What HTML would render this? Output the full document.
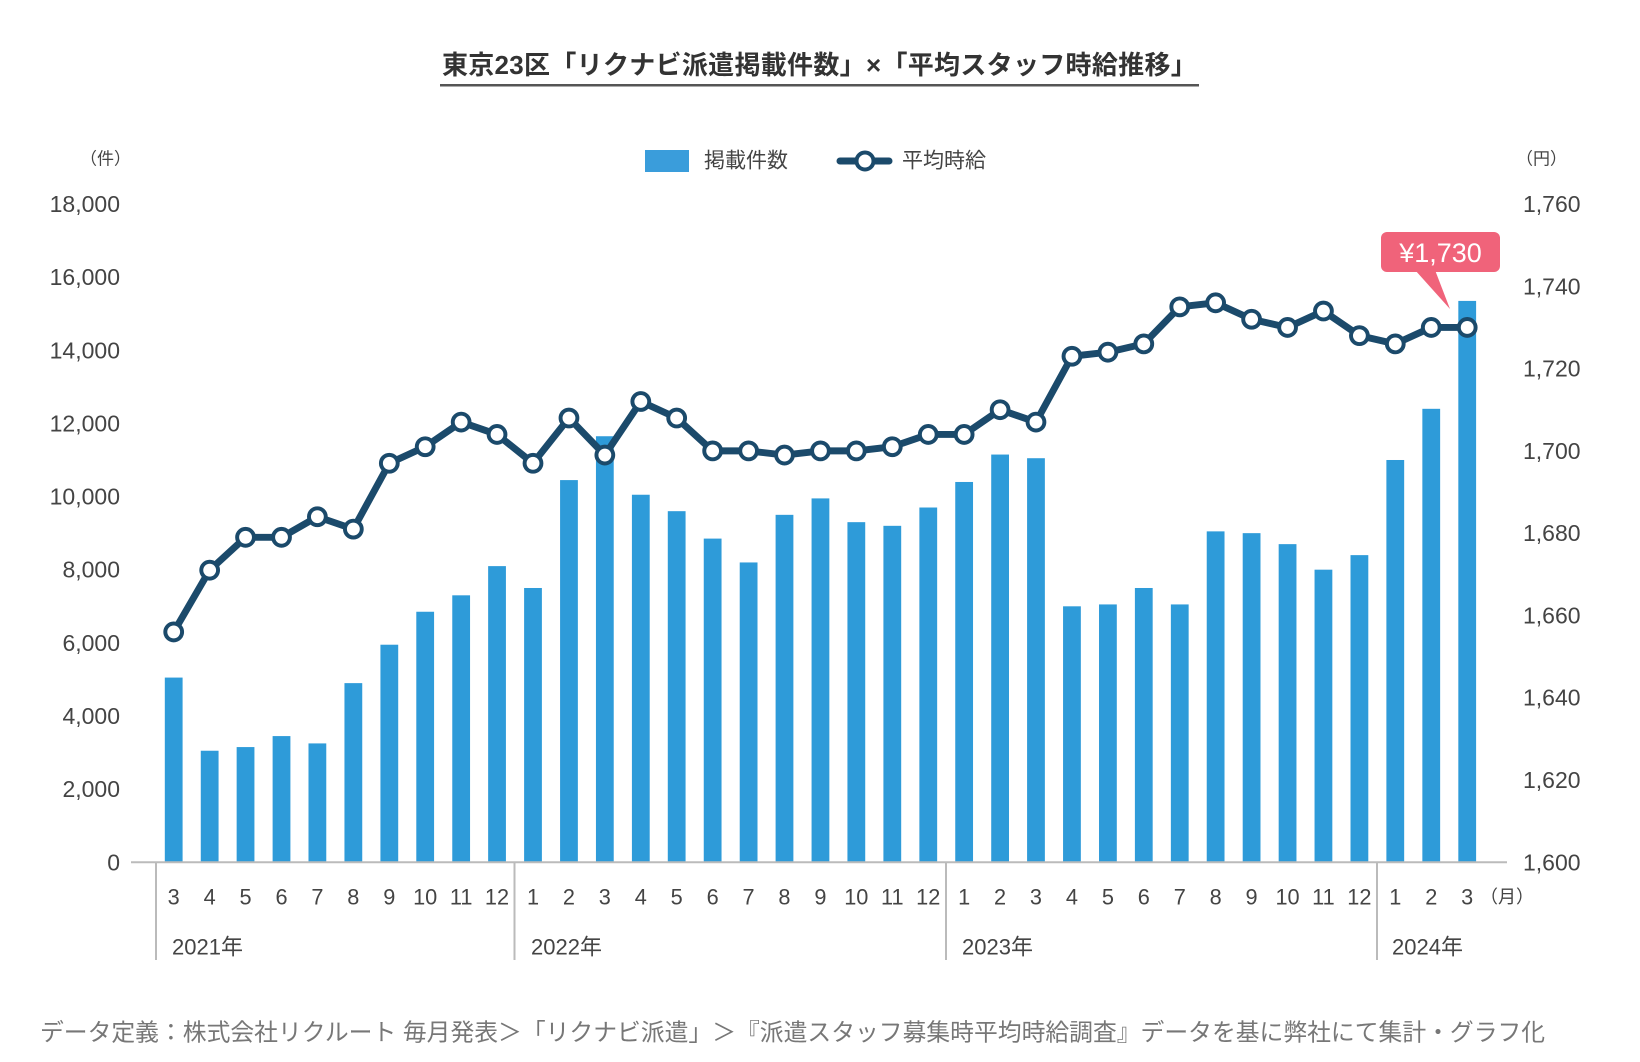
<!DOCTYPE html>
<html><head><meta charset="utf-8"><style>
html,body{margin:0;padding:0;background:#fff;}
svg{display:block;font-family:"Liberation Sans","Noto Sans CJK JP",sans-serif;}
</style></head><body>
<svg width="1640" height="1062" viewBox="0 0 1640 1062" xmlns="http://www.w3.org/2000/svg">
<text x="819.5" y="65" text-anchor="middle" dominant-baseline="central" font-size="26" font-weight="bold" fill="#333" letter-spacing="0.3">東京23区「リクナビ派遣掲載件数」×「平均スタッフ時給推移」</text>
<rect x="440" y="84" width="759" height="2.5" fill="#555"/>
<rect x="645" y="150" width="44" height="22" fill="#3a9ddb"/>
<text x="704" y="161" dominant-baseline="central" font-size="21" fill="#444">掲載件数</text>
<line x1="840" y1="161" x2="889" y2="161" stroke="#1b4a6b" stroke-width="7" stroke-linecap="round"/>
<circle cx="865" cy="161" r="8.5" fill="#fff" stroke="#1b4a6b" stroke-width="4"/>
<text x="902" y="161" dominant-baseline="central" font-size="21" fill="#444">平均時給</text>
<g font-size="17" fill="#444" dominant-baseline="central">
<text x="80" y="159">（件）</text><text x="1516" y="159">（円）</text></g>
<g font-size="23" fill="#444" text-anchor="end" dominant-baseline="central">
<text x="120" y="204">18,000</text><text x="120" y="277.1">16,000</text><text x="120" y="350.3">14,000</text><text x="120" y="423.4">12,000</text><text x="120" y="496.6">10,000</text><text x="120" y="569.7">8,000</text><text x="120" y="642.9">6,000</text><text x="120" y="716">4,000</text><text x="120" y="789.1">2,000</text><text x="120" y="862.3">0</text></g>
<g font-size="23" fill="#444" dominant-baseline="central">
<text x="1523" y="204">1,760</text><text x="1523" y="286.3">1,740</text><text x="1523" y="368.6">1,720</text><text x="1523" y="450.9">1,700</text><text x="1523" y="533.2">1,680</text><text x="1523" y="615.4">1,660</text><text x="1523" y="697.7">1,640</text><text x="1523" y="780">1,620</text><text x="1523" y="862.3">1,600</text></g>
<g transform="matrix(0.98817 0 0 0.98992 -0.218 2.059)">
<g fill="#2e9bd9">
<rect x="167" y="682.4" width="18" height="186.6"/><rect x="203.4" y="756.3" width="18" height="112.7"/><rect x="239.7" y="752.6" width="18" height="116.4"/><rect x="276.1" y="741.5" width="18" height="127.5"/><rect x="312.4" y="748.9" width="18" height="120.1"/><rect x="348.8" y="688" width="18" height="181"/><rect x="385.2" y="649.2" width="18" height="219.8"/><rect x="421.5" y="615.9" width="18" height="253.1"/><rect x="457.9" y="599.3" width="18" height="269.7"/><rect x="494.2" y="569.8" width="18" height="299.2"/>
<rect x="530.6" y="591.9" width="18" height="277.1"/><rect x="567" y="482.9" width="18" height="386.1"/><rect x="603.3" y="438.6" width="18" height="430.4"/><rect x="639.7" y="497.7" width="18" height="371.3"/><rect x="676" y="514.3" width="18" height="354.7"/><rect x="712.4" y="542" width="18" height="327"/><rect x="748.8" y="566.1" width="18" height="302.9"/><rect x="785.1" y="518" width="18" height="351"/><rect x="821.5" y="501.4" width="18" height="367.6"/><rect x="857.8" y="525.4" width="18" height="343.6"/><rect x="894.2" y="529.1" width="18" height="339.9"/><rect x="930.6" y="510.6" width="18" height="358.4"/>
<rect x="966.9" y="484.8" width="18" height="384.2"/><rect x="1003.3" y="457.1" width="18" height="411.9"/><rect x="1039.6" y="460.8" width="18" height="408.2"/><rect x="1076" y="610.4" width="18" height="258.6"/><rect x="1112.4" y="608.5" width="18" height="260.5"/><rect x="1148.7" y="591.9" width="18" height="277.1"/><rect x="1185.1" y="608.5" width="18" height="260.5"/><rect x="1221.4" y="534.7" width="18" height="334.3"/><rect x="1257.8" y="536.5" width="18" height="332.5"/><rect x="1294.2" y="547.6" width="18" height="321.4"/><rect x="1330.5" y="573.4" width="18" height="295.6"/><rect x="1366.9" y="558.7" width="18" height="310.3"/>
<rect x="1403.2" y="462.6" width="18" height="406.4"/><rect x="1439.6" y="410.9" width="18" height="458.1"/><rect x="1476" y="301.9" width="18" height="567.1"/>
</g>
<polyline fill="none" stroke="#1b4a6b" stroke-width="7" stroke-linejoin="round" points="176,636.3 212.4,573.9 248.7,540.7 285.1,540.7 321.4,519.9 357.8,532.4 394.2,465.9 430.5,449.2 466.9,424.3 503.2,436.8 539.6,465.9 576,420.2 612.3,457.6 648.7,403.5 685,420.2 721.4,453.4 757.8,453.4 794.1,457.6 830.5,453.4 866.8,453.4 903.2,449.2 939.6,436.8 975.9,436.8 1012.3,411.8 1048.6,424.3 1085,357.8 1121.4,353.7 1157.7,345.3 1194.1,307.9 1230.4,303.8 1266.8,320.4 1303.2,328.7 1339.5,312.1 1375.9,337 1412.2,345.3 1448.6,328.7 1485,328.7"/>
<g fill="#fff" stroke="#1b4a6b" stroke-width="4">
<circle cx="176" cy="636.3" r="8.5"/><circle cx="212.4" cy="573.9" r="8.5"/><circle cx="248.7" cy="540.7" r="8.5"/><circle cx="285.1" cy="540.7" r="8.5"/><circle cx="321.4" cy="519.9" r="8.5"/><circle cx="357.8" cy="532.4" r="8.5"/><circle cx="394.2" cy="465.9" r="8.5"/><circle cx="430.5" cy="449.2" r="8.5"/><circle cx="466.9" cy="424.3" r="8.5"/><circle cx="503.2" cy="436.8" r="8.5"/><circle cx="539.6" cy="465.9" r="8.5"/><circle cx="576" cy="420.2" r="8.5"/><circle cx="612.3" cy="457.6" r="8.5"/><circle cx="648.7" cy="403.5" r="8.5"/><circle cx="685" cy="420.2" r="8.5"/><circle cx="721.4" cy="453.4" r="8.5"/><circle cx="757.8" cy="453.4" r="8.5"/><circle cx="794.1" cy="457.6" r="8.5"/><circle cx="830.5" cy="453.4" r="8.5"/><circle cx="866.8" cy="453.4" r="8.5"/><circle cx="903.2" cy="449.2" r="8.5"/><circle cx="939.6" cy="436.8" r="8.5"/><circle cx="975.9" cy="436.8" r="8.5"/><circle cx="1012.3" cy="411.8" r="8.5"/><circle cx="1048.6" cy="424.3" r="8.5"/><circle cx="1085" cy="357.8" r="8.5"/><circle cx="1121.4" cy="353.7" r="8.5"/><circle cx="1157.7" cy="345.3" r="8.5"/><circle cx="1194.1" cy="307.9" r="8.5"/><circle cx="1230.4" cy="303.8" r="8.5"/><circle cx="1266.8" cy="320.4" r="8.5"/><circle cx="1303.2" cy="328.7" r="8.5"/><circle cx="1339.5" cy="312.1" r="8.5"/><circle cx="1375.9" cy="337" r="8.5"/><circle cx="1412.2" cy="345.3" r="8.5"/><circle cx="1448.6" cy="328.7" r="8.5"/><circle cx="1485" cy="328.7" r="8.5"/>
</g>
<g font-size="22" fill="#444" text-anchor="middle" dominant-baseline="central">
<text x="176" y="904">3</text><text x="212.4" y="904">4</text><text x="248.7" y="904">5</text><text x="285.1" y="904">6</text><text x="321.4" y="904">7</text><text x="357.8" y="904">8</text><text x="394.2" y="904">9</text><text x="430.5" y="904">10</text><text x="466.9" y="904">11</text><text x="503.2" y="904">12</text>
<text x="539.6" y="904">1</text><text x="576" y="904">2</text><text x="612.3" y="904">3</text><text x="648.7" y="904">4</text><text x="685" y="904">5</text><text x="721.4" y="904">6</text><text x="757.8" y="904">7</text><text x="794.1" y="904">8</text><text x="830.5" y="904">9</text><text x="866.8" y="904">10</text><text x="903.2" y="904">11</text><text x="939.6" y="904">12</text>
<text x="975.9" y="904">1</text><text x="1012.3" y="904">2</text><text x="1048.6" y="904">3</text><text x="1085" y="904">4</text><text x="1121.4" y="904">5</text><text x="1157.7" y="904">6</text><text x="1194.1" y="904">7</text><text x="1230.4" y="904">8</text><text x="1266.8" y="904">9</text><text x="1303.2" y="904">10</text><text x="1339.5" y="904">11</text><text x="1375.9" y="904">12</text>
<text x="1412.2" y="904">1</text><text x="1448.6" y="904">2</text><text x="1485" y="904">3</text>
</g>
</g>
<line x1="131" y1="862.3" x2="1507" y2="862.3" stroke="#bbb" stroke-width="2"/>
<g stroke="#bbb" stroke-width="2">
<line x1="156" y1="862" x2="156" y2="960"/><line x1="514.5" y1="862" x2="514.5" y2="960"/><line x1="946" y1="862" x2="946" y2="960"/><line x1="1377" y1="862" x2="1377" y2="960"/></g>
<rect x="1381" y="232" width="119" height="40" rx="6" fill="#f0637a"/>
<polygon points="1415,270 1435,270 1450,309" fill="#f0637a"/>
<text x="1440.5" y="253" text-anchor="middle" dominant-baseline="central" font-size="27" fill="#fff">¥1,730</text>
<text x="1480" y="897" dominant-baseline="central" font-size="18" fill="#444">（月）</text>
<g font-size="22" fill="#444" dominant-baseline="central">
<text x="172" y="947">2021年</text><text x="531" y="947">2022年</text><text x="962" y="947">2023年</text><text x="1392" y="947">2024年</text></g>
<text x="40" y="1033" dominant-baseline="central" font-size="23.8" fill="#777">データ定義：株式会社リクルート 毎月発表＞「リクナビ派遣」＞『派遣スタッフ募集時平均時給調査』データを基に弊社にて集計・グラフ化</text>
</svg>
</body></html>
